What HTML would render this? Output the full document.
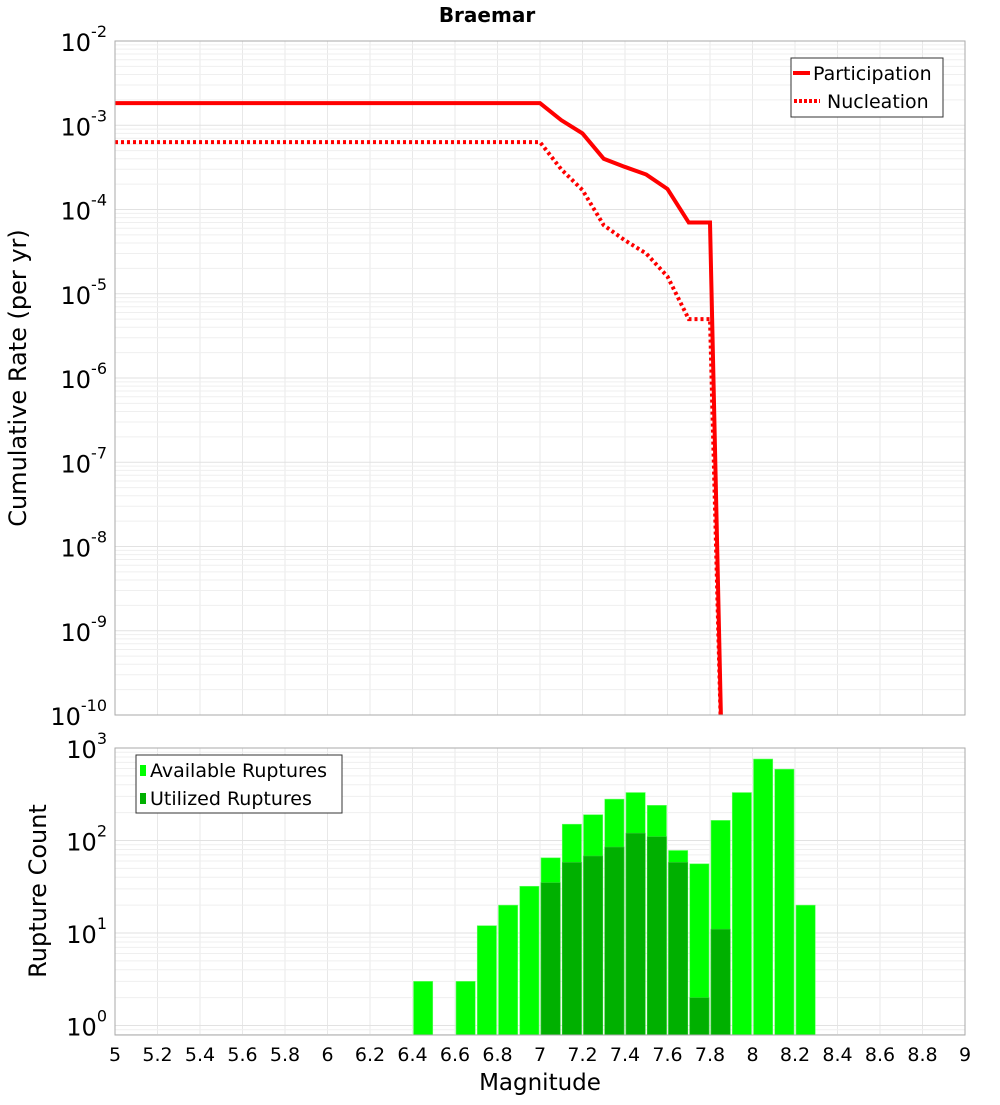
<!DOCTYPE html>
<html><head><meta charset="utf-8"><style>
body{margin:0;background:#fff;}
svg text{font-family:"DejaVu Sans","Liberation Sans",sans-serif;}
</style></head><body>
<svg id="c" width="1000" height="1100" xmlns="http://www.w3.org/2000/svg">
<text x="487" y="22" text-anchor="middle" font-size="20" font-weight="bold">Braemar</text>
<g id="topg"></g>
<g id="botg"></g>
<text transform="translate(26,378) rotate(-90)" text-anchor="middle" font-size="24">Cumulative Rate (per yr)</text>
<text transform="translate(46,891) rotate(-90)" text-anchor="middle" font-size="24">Rupture Count</text>
<text x="540" y="1090" text-anchor="middle" font-size="23">Magnitude</text>
</svg>
<script>
const partX=[5,7.0,7.1,7.2,7.3,7.4,7.5,7.6,7.7,7.8,7.86];
const partY=[1.83e-3,1.83e-3,1.15e-3,8e-4,4e-4,3.2e-4,2.6e-4,1.75e-4,7e-5,7e-5,1e-11];
const nuclX=[5,7.0,7.1,7.2,7.3,7.4,7.5,7.6,7.7,7.8,7.86];
const nuclY=[6.3e-4,6.3e-4,3e-4,1.7e-4,6.5e-5,4.3e-5,3e-5,1.6e-5,5e-6,5e-6,1e-11];
const binCenters=[6.45,6.65,6.75,6.85,6.95,7.05,7.15,7.25,7.35,7.45,7.55,7.65,7.75,7.85,7.95,8.05,8.15,8.25];
const available=[3,3,12,20,32,65,150,190,280,330,240,78,56,165,330,760,590,20];
const utilBins=[7.05,7.15,7.25,7.35,7.45,7.55,7.65,7.75,7.85];
const utilized=[35,58,68,85,120,110,58,2,11];
const xTicks=[5,5.2,5.4,5.6,5.8,6,6.2,6.4,6.6,6.8,7,7.2,7.4,7.6,7.8,8,8.2,8.4,8.6,8.8,9];
const topExp=[-2,-3,-4,-5,-6,-7,-8,-9,-10];
const botExp=[3,2,1,0];

const NS='http://www.w3.org/2000/svg';
const L=115,R=965;
const X=m=>L+(m-5)*(R-L)/4;
const T0=41,T1=715;
const yT=v=>T0+(-2-Math.log10(v))*(T1-T0)/8;
const B0=748,B1=1035,BD=92.5;
const yB=v=>B0+(3-Math.log10(v))*BD;
function mk(p,tag,at,txt){const e=document.createElementNS(NS,tag);for(const k in at)e.setAttribute(k,at[k]);if(txt!==undefined)e.textContent=txt;p.appendChild(e);return e;}
const topG=document.getElementById('topg'),botG=document.getElementById('botg');
const svgEl=document.getElementById('c');
const defs=mk(svgEl,'defs',{});
const cp=mk(defs,'clipPath',{id:'ct'});mk(cp,'rect',{x:L,y:T0,width:R-L,height:T1-T0});
const cb=mk(defs,'clipPath',{id:'cb'});mk(cb,'rect',{x:L,y:B0,width:R-L,height:B1-B0});
function grid(g,y0,y1,yf,dmin,dmax){
  for(const t of xTicks){const l=mk(g,'line',{x1:X(t),x2:X(t),y1:y0,y2:y1,stroke:'#e8e8e8'});}
  for(let d=dmin;d<dmax;d++)for(let k=1;k<10;k++){const y=yf(k*Math.pow(10,d));if(y<y0-0.5||y>y1+0.5)continue;const l=mk(g,'line',{x1:L,x2:R,y1:y,y2:y,stroke:k==1?'#e2e2e2':'#efefef'});}
}
grid(topG,T0,T1,yT,-10,-1);
grid(botG,B0,B1,yB,-1,3);
function line(xs,ys,dash,name){const d=xs.map((x,i)=>(i?'L':'M')+X(x)+','+yT(ys[i])).join('');const p=mk(topG,'path',{d:d,fill:'none',stroke:'#f00','stroke-width':4,'clip-path':'url(#ct)'});if(dash)p.setAttribute('stroke-dasharray','3,3');}
line(partX,partY,false,'participation-line');
line(nuclX,nuclY,true,'nucleation-line');
const bw=(R-L)/40;
binCenters.forEach((c,i)=>{const y=yB(available[i]);const r=mk(botG,'rect',{x:X(c)-bw/2+1,y:y,width:bw-2,height:B1-y,fill:'#00ff00',stroke:'#66ff66','stroke-width':0.6,'clip-path':'url(#cb)'});});
utilBins.forEach((c,i)=>{const y=yB(utilized[i]);const r=mk(botG,'rect',{x:X(c)-bw/2+1,y:y,width:bw-2,height:B1-y,fill:'#00b000',stroke:'#33cc33','stroke-width':0.6,'clip-path':'url(#cb)'});});
mk(topG,'rect',{x:L,y:T0,width:R-L,height:T1-T0,fill:'none',stroke:'#aaa'});
mk(botG,'rect',{x:L,y:B0,width:R-L,height:B1-B0,fill:'none',stroke:'#aaa'});
function ylab(g,y,e,name){const t=mk(g,'text',{x:107,y:y+10,'text-anchor':'end','font-size':24});mk(t,'tspan',{},'10');mk(t,'tspan',{dy:-14,'font-size':16},String(e));}
topExp.forEach(e=>ylab(topG,yT(Math.pow(10,e)),e,'y-tick-label-rate'));
botExp.forEach(e=>ylab(botG,yB(Math.pow(10,e)),e,'y-tick-label-count'));
xTicks.forEach(t=>{const e=mk(botG,'text',{x:X(t),y:1061,'text-anchor':'middle','font-size':19},String(Math.round(t*10)/10));});
const lg=mk(topG,'g',{});
mk(lg,'rect',{x:791,y:58,width:152,height:59,fill:'#fff',stroke:'#333'});
mk(lg,'line',{x1:793,x2:810,y1:73,y2:73,stroke:'#f00','stroke-width':4});
mk(lg,'text',{x:813,y:80,'font-size':19},'Participation');
mk(lg,'line',{x1:794,x2:820,y1:101,y2:101,stroke:'#f00','stroke-width':4,'stroke-dasharray':'3,2'});
mk(lg,'text',{x:827,y:108,'font-size':19},'Nucleation');
const lb=mk(botG,'g',{});
mk(lb,'rect',{x:136,y:755,width:206,height:58,fill:'#fff',stroke:'#333'});
mk(lb,'rect',{x:140,y:765,width:6,height:11,fill:'#00ff00'});
mk(lb,'text',{x:150,y:777,'font-size':19},'Available Ruptures');
mk(lb,'rect',{x:140,y:793,width:6,height:11,fill:'#00b000'});
mk(lb,'text',{x:150,y:805,'font-size':19},'Utilized Ruptures');
</script>
</body></html>
